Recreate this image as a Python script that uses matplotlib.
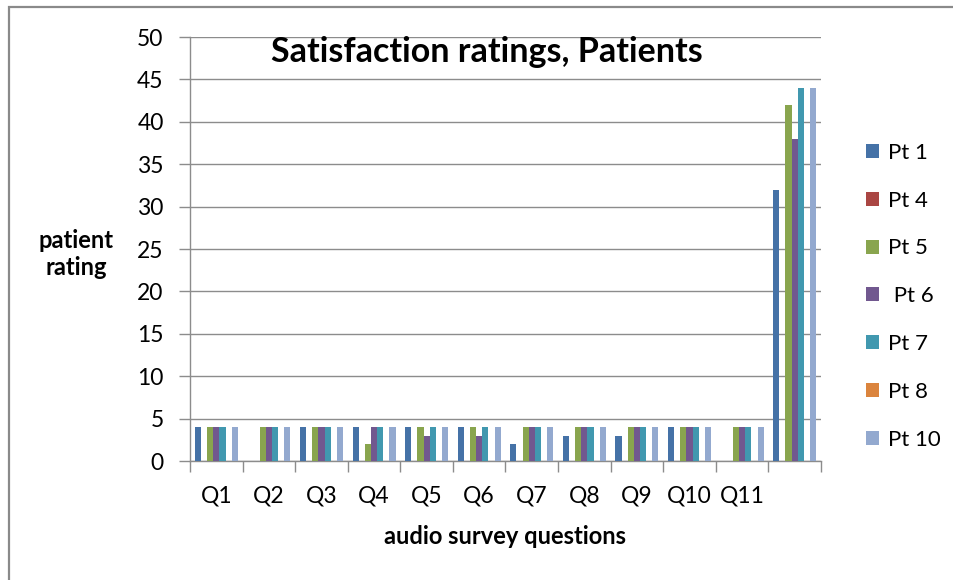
import matplotlib
matplotlib.use("Agg")
import matplotlib.pyplot as plt
import numpy as np
from matplotlib.patches import Rectangle, Patch

plt.rcParams['font.family'] = ['Lato', 'DejaVu Sans']

categories = ["Q1", "Q2", "Q3", "Q4", "Q5", "Q6", "Q7", "Q8", "Q9", "Q10", "Q11", ""]
series_names = ["Pt 1", "Pt 4", "Pt 5", " Pt 6", "Pt 7", "Pt 8", "Pt 10"]
pt1 = [4, 0, 4, 4, 4, 4, 2, 3, 3, 4, 0, 32]
pt4 = [0, 0, 0, 0, 0, 0, 0, 0, 0, 0, 0, 0]
pt5 = [4, 4, 4, 2, 4, 4, 4, 4, 4, 4, 4, 42]
pt6 = [4, 4, 4, 4, 3, 3, 4, 4, 4, 4, 4, 38]
pt7 = [4, 4, 4, 4, 4, 4, 4, 4, 4, 4, 4, 44]
pt8 = [0, 0, 0, 0, 0, 0, 0, 0, 0, 0, 0, 0]
pt10 = [4, 4, 4, 4, 4, 4, 4, 4, 4, 4, 4, 44]
series = [pt1, pt4, pt5, pt6, pt7, pt8, pt10]
colors = ["#4572A7", "#AA4643", "#89A54E", "#71588F", "#4198AF", "#DB843D", "#93A9CF"]

W, H = 954, 580
fig = plt.figure(figsize=(W / 100, H / 100), dpi=100)
fig.patch.set_facecolor("white")

# outer chart border
fig.add_artist(Rectangle((9 / W, 0 - 0.01), 1.0, 1 - 7 / H + 0.01, transform=fig.transFigure,
                         fill=False, edgecolor="#8a8a8a", linewidth=1.6))

ax = fig.add_axes([190 / W, 1 - 461 / H, (821 - 190) / W, (461 - 37) / H])
x = np.arange(len(categories))
bw = 0.117
for j, (vals, c, name) in enumerate(zip(series, colors, series_names)):
    ax.bar(x + (j - 3) * bw, vals, width=bw, color=c, label=name, zorder=3, linewidth=0)

ax.set_xlim(-0.5, len(categories) - 0.5)
ax.set_ylim(0, 50)
ax.set_yticks(np.arange(0, 51, 5))
ax.yaxis.grid(True, color="#8c8c8c", linewidth=1.0, zorder=0)
ax.set_axisbelow(True)

ax.set_xticks(np.arange(-0.5, len(categories), 1.0))
ax.set_xticklabels([])
ax.set_xticks(x, minor=True)
ax.set_xticklabels(categories, minor=True)
ax.tick_params(axis="x", which="major", direction="out", length=8, width=1, color="#8c8c8c")
ax.tick_params(axis="x", which="minor", length=0, pad=18, labelsize=16.5)
ax.tick_params(axis="y", direction="out", length=8, width=1, color="#8c8c8c", pad=11, labelsize=16.5)

for s in ["top", "right"]:
    ax.spines[s].set_visible(False)
for s in ["left", "bottom"]:
    ax.spines[s].set_color("#8c8c8c")
    ax.spines[s].set_linewidth(1.0)

fig.text(487 / W, 1 - 52 / H, "Satisfaction ratings, Patients", ha="center", va="center",
         fontsize=24.5, fontweight="bold")
fig.text(76 / W, 1 - 254 / H, "patient\nrating", ha="center", va="center",
         fontsize=17, fontweight="bold", linespacing=1.25)
fig.text(505 / W, 1 - 537 / H, "audio survey questions", ha="center", va="center",
         fontsize=17, fontweight="bold")

handles = [Patch(facecolor=c, edgecolor="none") for c in colors]
leg = fig.legend(handles, series_names, loc="upper left",
                 bbox_to_anchor=(857 / W, 1 - 134 / H), frameon=False,
                 fontsize=16, handlelength=0.6, handleheight=0.6,
                 handletextpad=0.4, labelspacing=1.25, borderaxespad=0)

fig.savefig("out.png", dpi=100)
